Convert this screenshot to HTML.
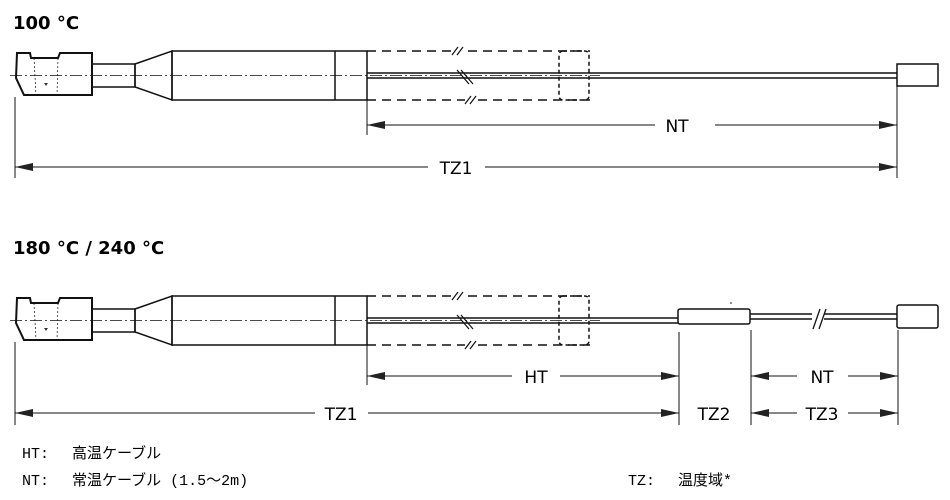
<!DOCTYPE html>
<html><head><meta charset="utf-8"><style>
html,body{margin:0;padding:0;background:#fff;}
svg{display:block;}
.t{font-family:"DejaVu Sans","Liberation Sans",sans-serif;font-weight:bold;font-size:18px;}
.d{font-family:"DejaVu Sans","Liberation Sans",sans-serif;font-size:17px;}
.l{font-family:"Liberation Mono","Noto Sans CJK JP",monospace;font-size:15px;}
</style></head><body>
<svg width="950" height="500" viewBox="0 0 950 500" xmlns="http://www.w3.org/2000/svg">
<defs>
<marker id="a" markerWidth="18" markerHeight="8" refX="18" refY="4" orient="auto-start-reverse" markerUnits="userSpaceOnUse"><path d="M0,0 L18,4 L0,8 Z" fill="#222"/></marker>
<g id="probe" stroke="#111" fill="none">
  <path d="M17,53 L30,53 L31,58 L58,58 L60,53 L92,53 L92,95 L24,95 L16,78 Z" stroke-width="2"/>
  <path d="M34,58 L36,95 M58,58 L57,95" stroke-width="0.7" stroke-dasharray="2,2"/>
  <path d="M44,83 l4,0 l-2,3z" fill="#333" stroke="none"/>
  <rect x="92" y="64" width="43" height="23" stroke-width="1.5"/>
  <path d="M135,64 L172,51 L172,100 L135,87 Z" stroke-width="1.5"/>
  <rect x="172" y="51" width="195" height="49" stroke-width="1.5"/>
  <line x1="335" y1="51" x2="335" y2="100" stroke-width="1.5"/>
  <path d="M367,51 L455,51 M468,51 L590,51 M367,100 L465,100 M478,100 L590,100" stroke-width="1.5" stroke-dasharray="9,6"/>
  <path d="M452,55 L458,47 M457,55 L463,47 M465,104 L471,96 M470,104 L476,96 M457,70 L469,84 M461,70 L473,84" stroke-width="1.2"/>
  <rect x="559" y="51" width="30" height="49" rx="4" stroke-width="1.5" stroke-dasharray="4,3"/>
  <line x1="10" y1="75.5" x2="600" y2="75.5" stroke-width="0.8" stroke-dasharray="12,3,2,3"/>
</g>
</defs>
<text x="13" y="29" class="t">100 °C</text>
<text x="13" y="254" class="t">180 °C / 240 °C</text>

<!-- top probe -->
<use href="#probe"/>
<g stroke="#111" fill="none">
<line x1="367" y1="73" x2="897" y2="73" stroke-width="1.5"/>
<line x1="367" y1="78" x2="897" y2="78" stroke-width="1.5"/>
<rect x="897" y="64" width="41" height="22" stroke-width="1.5" fill="#fff"/>
<line x1="15" y1="97" x2="15" y2="178" stroke-width="1"/>
<line x1="367" y1="100" x2="367" y2="135" stroke-width="1"/>
<line x1="897" y1="86" x2="897" y2="178" stroke-width="1"/>
<line x1="367" y1="125" x2="655" y2="125" marker-start="url(#a)" stroke-width="1"/>
<line x1="715" y1="125" x2="897" y2="125" marker-end="url(#a)" stroke-width="1"/>
<line x1="15" y1="167" x2="428" y2="167" marker-start="url(#a)" stroke-width="1"/>
<line x1="485" y1="167" x2="897" y2="167" marker-end="url(#a)" stroke-width="1"/>
</g>
<text x="677" y="132" class="d" text-anchor="middle">NT</text>
<text x="456" y="174" class="d" text-anchor="middle">TZ1</text>

<!-- bottom probe -->
<use href="#probe" transform="translate(0,245)"/>
<g stroke="#111" fill="none">
<line x1="367" y1="318" x2="678" y2="318" stroke-width="1.5"/>
<line x1="367" y1="323" x2="678" y2="323" stroke-width="1.5"/>
<rect x="678" y="309" width="72" height="15" rx="2" stroke-width="1.5" fill="#fff"/>
<line x1="750" y1="314" x2="897" y2="314" stroke-width="1.5"/>
<line x1="750" y1="319" x2="897" y2="319" stroke-width="1.5"/>
<rect x="812" y="308" width="12" height="16" fill="#fff" stroke="none"/>
<path d="M813,329 L820,309 M819,329 L826,309" stroke-width="1.3"/>
<rect x="897" y="305" width="41" height="23" rx="2" stroke-width="1.5" fill="#fff"/>
<line x1="15" y1="342" x2="15" y2="425" stroke-width="1"/>
<line x1="367" y1="345" x2="367" y2="385" stroke-width="1"/>
<line x1="679" y1="332" x2="679" y2="425" stroke-width="1"/>
<line x1="751" y1="330" x2="751" y2="425" stroke-width="1"/>
<line x1="898" y1="330" x2="898" y2="425" stroke-width="1"/>
<line x1="367" y1="376" x2="512" y2="376" marker-start="url(#a)" stroke-width="1"/>
<line x1="560" y1="376" x2="679" y2="376" marker-end="url(#a)" stroke-width="1"/>
<line x1="751" y1="376" x2="797" y2="376" marker-start="url(#a)" stroke-width="1"/>
<line x1="848" y1="376" x2="898" y2="376" marker-end="url(#a)" stroke-width="1"/>
<line x1="15" y1="413" x2="315" y2="413" marker-start="url(#a)" stroke-width="1"/>
<line x1="368" y1="413" x2="679" y2="413" marker-end="url(#a)" stroke-width="1"/>
<line x1="751" y1="413" x2="797" y2="413" marker-start="url(#a)" stroke-width="1"/>
<line x1="848" y1="413" x2="898" y2="413" marker-end="url(#a)" stroke-width="1"/>
</g>
<circle cx="731" cy="303" r="0.8" fill="#111"/>
<text x="536" y="383" class="d" text-anchor="middle">HT</text>
<text x="822" y="383" class="d" text-anchor="middle">NT</text>
<text x="341" y="420" class="d" text-anchor="middle">TZ1</text>
<text x="714" y="420" class="d" text-anchor="middle">TZ2</text>
<text x="822" y="420" class="d" text-anchor="middle">TZ3</text>

<text x="22" y="458" class="l">HT:</text>
<text x="72" y="458" class="l">高温ケーブル</text>
<text x="22" y="485" class="l">NT:</text>
<text x="72" y="485" class="l">常温ケーブル (1.5～2m)</text>
<text x="628" y="485" class="l">TZ:</text>
<text x="678" y="485" class="l">温度域*</text>
</svg>
</body></html>
